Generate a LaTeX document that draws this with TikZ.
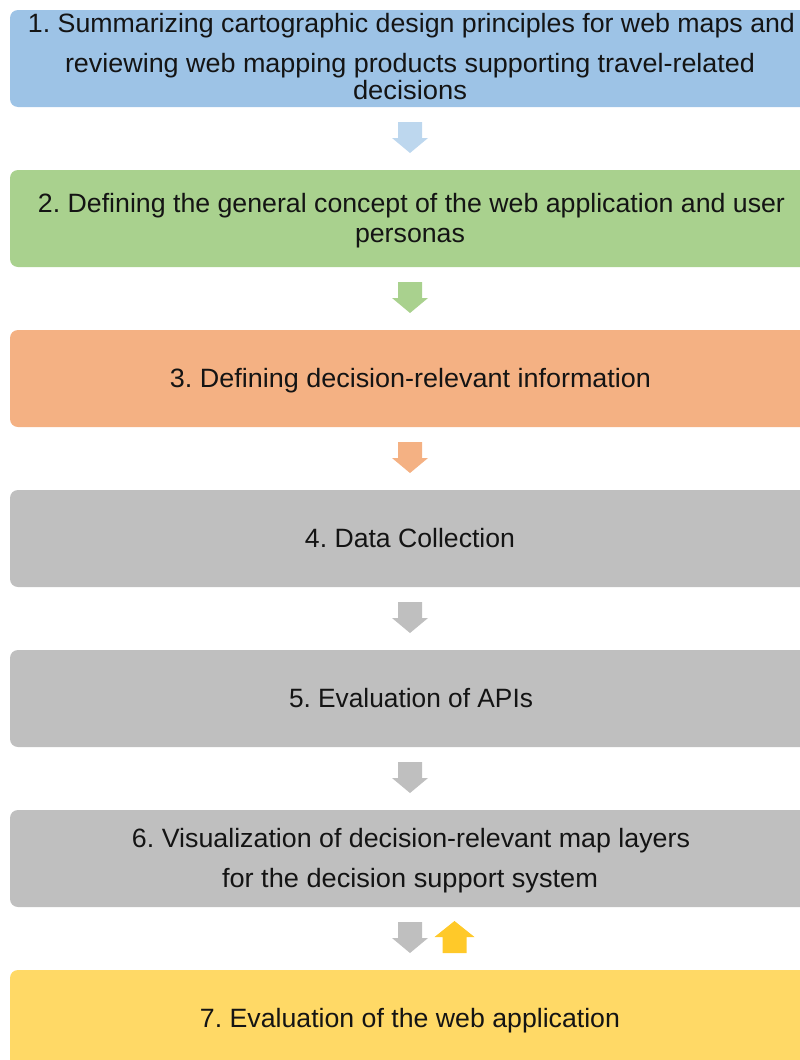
\documentclass[tikz,border=0pt]{standalone}
\usepackage{fontspec}
\setmainfont{Liberation Sans}
\frenchspacing
\definecolor{cblue}{HTML}{9DC3E6}
\definecolor{cgreen}{HTML}{A9D18E}
\definecolor{corange}{HTML}{F4B183}
\definecolor{cgray}{HTML}{BFBFBF}
\definecolor{cyellow}{HTML}{FFD966}
\definecolor{ablue}{HTML}{BDD7EE}
\definecolor{ayellow}{HTML}{FFC929}
\definecolor{ctext}{HTML}{141414}
\newcommand{\fitw}[2]{\resizebox{#1pt}{\height}{#2}}
\tikzset{
  stepbox/.style={rounded corners=8pt, draw=none},
  lbl/.style={inner sep=0pt, anchor=base, text=ctext, font=\fontsize{26.5}{30}\selectfont},
  downarrow/.pic={\fill[pic actions] (-12,0) -- (12,0) -- (12,16) -- (18,16) -- (0,31) -- (-18,16) -- (-12,16) -- cycle;},
  uparrow/.pic={\fill[pic actions] (-12,0) -- (12,0) -- (12,-16) -- (20,-16) -- (0,-32) -- (-20,-16) -- (-12,-16) -- cycle;}
}
\begin{document}
\begin{tikzpicture}[x=1pt,y=-1pt]
\useasboundingbox (0,0) rectangle (800,1060);
\clip (0,0) rectangle (800,1060);
% boxes
\fill[stepbox, cblue]   (10,10)  rectangle (820,107);
\fill[stepbox, cgreen]  (10,170) rectangle (820,267);
\fill[stepbox, corange] (10,330) rectangle (820,427);
\fill[stepbox, cgray]   (10,490) rectangle (820,587);
\fill[stepbox, cgray]   (10,650) rectangle (820,747);
\fill[stepbox, cgray]   (10,810) rectangle (820,907);
\fill[stepbox, cyellow] (10,970) rectangle (820,1080);
% texts
\node[lbl] (t1a) at (411.5,32.5) {\fitw{767}{1. Summarizing cartographic design principles for web maps and}};
\node[lbl] (t1b) at (410,72) {\fitw{690}{reviewing web mapping products supporting travel-related}};
\node[lbl] (t1c) at (410,99) {\fitw{114}{decisions}};
\node[lbl] (t2a) at (411.5,212.5) {\fitw{747}{2. Defining the general concept of the web application and user}};
\node[lbl] (t2b) at (410,242.5) {\fitw{110}{personas}};
\node[lbl] (t3) at (410.5,387) {\fitw{481}{3. Defining decision-relevant information}};
\node[lbl] (t4) at (410,547) {\fitw{210}{4. Data Collection}};
\node[lbl] (t5) at (411,707) {\fitw{244}{5. Evaluation of APIs}};
\node[lbl] (t6a) at (411,847) {\fitw{558}{6. Visualization of decision-relevant map layers}};
\node[lbl] (t6b) at (410,887) {\fitw{376}{for the decision support system}};
\node[lbl] (t7) at (410,1027) {\fitw{420}{7. Evaluation of the web application}};
% arrows
\coordinate (a1) at (410,122);
\coordinate (a2) at (410,282);
\coordinate (a3) at (410,442);
\coordinate (a4) at (410,602);
\coordinate (a5) at (410,762);
\coordinate (a6) at (410,922);
\coordinate (a7) at (454.5,953);
\pic[fill=ablue] at (a1) {downarrow};
\pic[fill=cgreen] at (a2) {downarrow};
\pic[fill=corange] at (a3) {downarrow};
\pic[fill=cgray] at (a4) {downarrow};
\pic[fill=cgray] at (a5) {downarrow};
\pic[fill=cgray] at (a6) {downarrow};
\pic[fill=ayellow] at (a7) {uparrow};
\end{tikzpicture}
\end{document}
